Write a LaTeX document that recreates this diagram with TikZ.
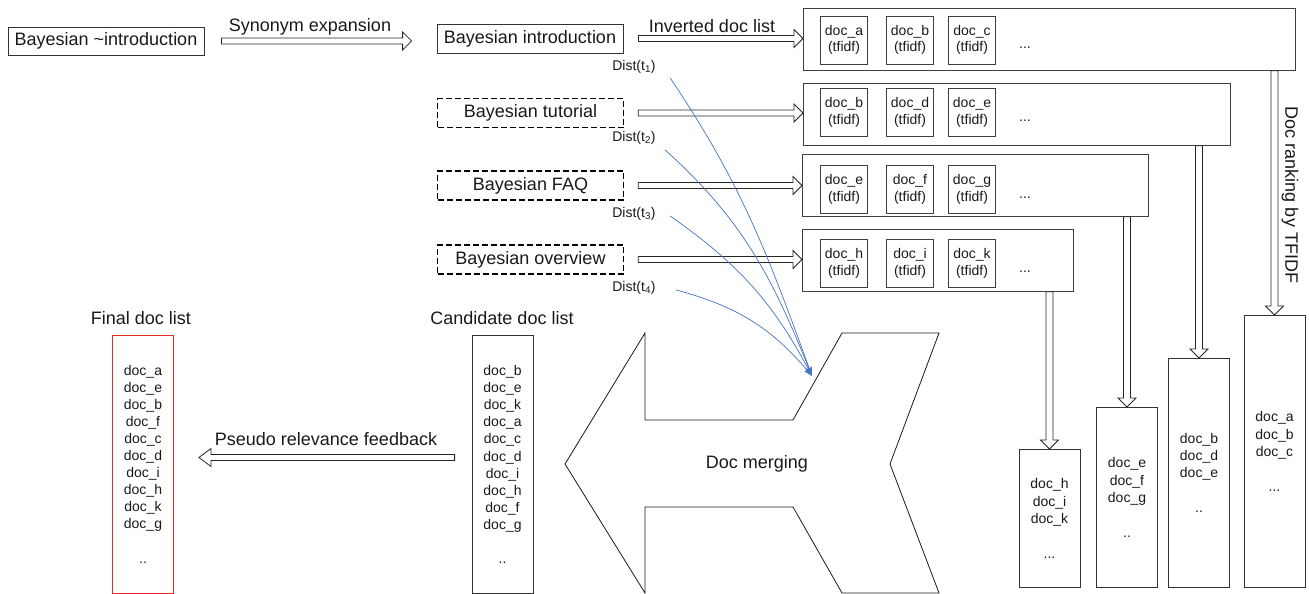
\documentclass[tikz,border=0pt]{standalone}
\usepackage{fontspec}
\setmainfont{Liberation Sans}
\usetikzlibrary{arrows.meta,calc}

\definecolor{distblue}{RGB}{68,114,196}
\definecolor{finalred}{RGB}{230,40,40}

\tikzset{
  every node/.style={font=\fontsize{18}{21}\selectfont, text=black!90},
  smalltxt/.style={font=\fontsize{14}{17.3}\selectfont},
  term/.style={draw=black!80, line width=0.8pt, minimum width=186pt, minimum height=29pt, inner sep=0pt},
  synterm/.style={term, draw=black, line width=1.5pt, dash pattern=on 6pt off 3pt},
  panel/.style={draw=black!75, line width=0.8pt, anchor=north west, minimum height=62pt, inner sep=0pt},
  docbox/.style={draw=black!75, line width=0.8pt, minimum width=47pt, minimum height=48pt,
    inner sep=0pt, align=center, font=\fontsize{14}{16.5}\selectfont},
  rankcol/.style={draw=black!80, line width=0.8pt, minimum width=61pt, inner sep=0pt,
    anchor=north, align=center, smalltxt},
  doclist/.style={draw=black!80, line width=0.8pt, minimum width=61pt, minimum height=258pt,
    inner sep=0pt, align=center, font=\fontsize{14}{17.1}\selectfont},
  flex/.style={draw=black!85, line width=0.8pt, fill=white},
  % hollow arrows, tail at the start, head at the target
  rarrow/.style={flex, to path={let \p1=(\tikztostart), \p2=(\tikztotarget) in
    (\x1,\y1+3pt) -- (\x2-9pt,\y1+3pt) -- (\x2-9pt,\y1+9pt) -- (\x2,\y1)
    -- (\x2-9pt,\y1-9pt) -- (\x2-9pt,\y1-3pt) -- (\x1,\y1-3pt) -- cycle}},
  larrow/.style={flex, to path={let \p1=(\tikztostart), \p2=(\tikztotarget) in
    (\x1,\y1+3pt) -- (\x2+12pt,\y1+3pt) -- (\x2+12pt,\y1+9pt) -- (\x2,\y1)
    -- (\x2+12pt,\y1-9pt) -- (\x2+12pt,\y1-3pt) -- (\x1,\y1-3pt) -- cycle}},
  darrow/.style={flex, to path={let \p1=(\tikztostart), \p2=(\tikztotarget) in
    (\x1-3.5pt,\y1) -- (\x1-3.5pt,\y2+9pt) -- (\x1-9pt,\y2+9pt) -- (\x1,\y2)
    -- (\x1+9pt,\y2+9pt) -- (\x1+3.5pt,\y2+9pt) -- (\x1+3.5pt,\y1) -- cycle}},
  distlink/.style={draw=distblue, line width=0.7pt, -{Stealth[length=9pt,width=6pt]}}
}

\begin{document}
\begin{tikzpicture}[x=1pt, y=-1pt]
  \useasboundingbox (0,0) rectangle (1309,594);

  % query and expanded terms
  \node[term, minimum width=196pt, minimum height=28pt] (query) at (106,41) {Bayesian \textasciitilde introduction};
  \node[term] (intro) at (530,38.5) {Bayesian introduction};
  \node[synterm] (tutorial) at (530.5,113) {Bayesian tutorial};
  \node[synterm] (faq) at (530.5,185.5) {Bayesian FAQ};
  \node[synterm] (overview) at (530.5,259.5) {Bayesian overview};

  \node (synlbl) at (310,27) {Synonym expansion};
  \node (invlbl) at (712,26) {Inverted doc list};

  \node[smalltxt] (dist1) at (634,67) {Dist(t\textsubscript{1})};
  \node[smalltxt] (dist2) at (634,138) {Dist(t\textsubscript{2})};
  \node[smalltxt] (dist3) at (634,214) {Dist(t\textsubscript{3})};
  \node[smalltxt] (dist4) at (634,288) {Dist(t\textsubscript{4})};

  % inverted doc lists
  \node[panel, minimum width=492pt] (list1) at (803,8) {};
  \node[panel, minimum width=427pt] (list2) at (803,83) {};
  \node[panel, minimum width=346pt] (list3) at (802,154) {};
  \node[panel, minimum width=271pt] (list4) at (802,229) {};

  \foreach \row/\ya/\ka/\kb/\kc in {1/40/a/b/c, 2/112.5/b/d/e, 3/189.5/e/f/g, 4/263.5/h/i/k} {
    \node[docbox] (d\row a) at (844,\ya) {doc\_\ka\\(tfidf)};
    \node[docbox] (d\row b) at (910,\ya) {doc\_\kb\\(tfidf)};
    \node[docbox] (d\row c) at (972,\ya) {doc\_\kc\\(tfidf)};
    \node[smalltxt] (more\row) at (1025,\ya+8) {...};
  }

  \draw[rarrow] ([xshift=17pt]query.east) to ([xshift=-25pt]intro.west);
  \draw[rarrow] ([xshift=15pt]intro.east) to (list1.west);
  \draw[rarrow] ([xshift=14pt]tutorial.east) to (list2.west);
  \draw[rarrow] ([xshift=14pt]faq.east) to (list3.west);
  \draw[rarrow] ([xshift=14pt]overview.east) to (list4.west);

  % lists ranked by tfidf
  \node[rankcol, minimum height=272pt] (rank1) at (1274.5,315) {doc\_a\\doc\_b\\doc\_c\\[17.3pt]...};
  \node[rankcol, minimum height=229pt] (rank2) at (1199,358) {doc\_b\\doc\_d\\doc\_e\\[17.3pt]..};
  \node[rankcol, minimum height=180pt] (rank3) at (1127,407) {doc\_e\\doc\_f\\doc\_g\\[17.3pt]..};
  \node[rankcol, minimum height=138pt] (rank4) at (1049.5,449) {doc\_h\\doc\_i\\doc\_k\\[17.3pt]...};

  \draw[darrow] (list1.south -| rank1.north) to (rank1.north);
  \draw[darrow] (list2.south -| rank2.north) to (rank2.north);
  \draw[darrow] (list3.south -| rank3.north) to (rank3.north);
  \draw[darrow] (list4.south -| rank4.north) to (rank4.north);

  \node[rotate=-90] (rankby) at (1290,195) {Doc ranking by TFIDF};

  % merging
  \draw[line width=0.8pt, draw=black!90] (565,464) -- (645,333) -- (645,420) -- (793,420) -- (842,333)
    -- (939,333) -- (890,464) -- (939,593) -- (842,593) -- (793,507) -- (645,507) -- (645,593) -- cycle;
  \node (merging) at (757,464) {Doc merging};
  \coordinate (mergein) at (812,376);

  \node[doclist] (cand) at (502.5,464.5) {doc\_b\\doc\_e\\doc\_k\\doc\_a\\doc\_c\\doc\_d\\doc\_i\\doc\_h\\doc\_f\\doc\_g\\[17.1pt]..};
  \node (candlbl) at (502,318) {Candidate doc list};

  \node[doclist, draw=finalred, line width=0.9pt] (final) at (143,464) {doc\_a\\doc\_e\\doc\_b\\doc\_f\\doc\_c\\doc\_d\\doc\_i\\doc\_h\\doc\_k\\doc\_g\\[17.1pt]..};
  \node (finallbl) at (141,318) {Final doc list};

  \draw[larrow] ([xshift=-17pt,yshift=7pt]cand.west) to ([xshift=25pt]final.east);
  \node (prflbl) at (326,439) {Pseudo relevance feedback};

  % distances to the merge step
  \draw[distlink] ([xshift=11pt,yshift=-11pt]dist1.east) to[out=-56, in=110] (mergein);
  \draw[distlink] ([xshift=6pt,yshift=-12pt]dist2.east) to[out=-42, in=112] (mergein);
  \draw[distlink] ([xshift=11pt,yshift=-2pt]dist3.east) to[out=-35, in=118] (mergein);
  \draw[distlink] ([xshift=17pt,yshift=-2pt]dist4.east) to[out=-15, in=130] (mergein);
\end{tikzpicture}
\end{document}
